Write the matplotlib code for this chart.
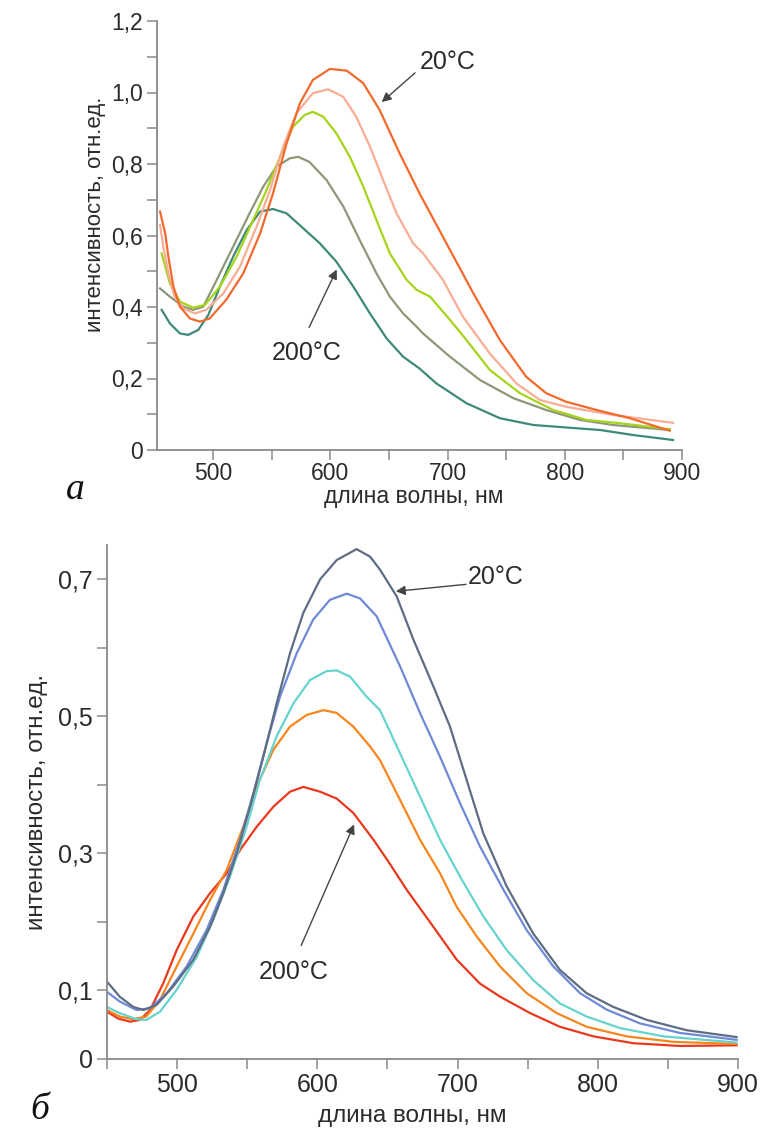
import matplotlib
matplotlib.use("Agg")
import matplotlib.pyplot as plt

plt.rcParams['font.family'] = ['Liberation Sans', 'DejaVu Sans']

# ===== ДАННЫЕ: панель а =====
a_orange_x = [454.6, 459, 461.7, 466, 471.6, 480, 488.7, 497, 511, 525.6, 540, 551, 562.6, 574, 585,
              599.5, 614, 628, 642, 659, 676, 699, 722, 744.5, 767, 784, 801, 827, 855.4, 889.5]
a_orange_y = [0.667, 0.606, 0.541, 0.457, 0.401, 0.368, 0.359, 0.368, 0.42, 0.494, 0.606, 0.718, 0.858,
              0.97, 1.035, 1.066, 1.061, 1.026, 0.951, 0.83, 0.718, 0.578, 0.438, 0.308, 0.205, 0.159,
              0.135, 0.112, 0.089, 0.054]

a_salmon_x = [454.6, 457.4, 461.7, 467, 474.5, 484.4, 494, 508.6, 522.8, 537, 548.4, 559.7, 571, 585,
              598, 611, 622, 633.7, 645, 656.4, 670.6, 679, 696, 713, 736, 758.8, 778.7, 801, 841, 892.4]
a_salmon_y = [0.629, 0.569, 0.494, 0.429, 0.396, 0.382, 0.392, 0.438, 0.513, 0.625, 0.727, 0.849,
              0.942, 0.998, 1.009, 0.988, 0.932, 0.849, 0.755, 0.662, 0.578, 0.55, 0.476, 0.373, 0.27,
              0.186, 0.14, 0.121, 0.098, 0.076]

a_green_x = [456, 463, 471.6, 483, 493, 505.7, 520, 534, 545.5, 557, 568, 578, 585, 594, 605, 616.6,
             628, 639.3, 650.7, 665, 673.5, 685, 702, 716, 736, 761.6, 790, 818.5, 847, 889.5]
a_green_y = [0.55, 0.466, 0.415, 0.398, 0.406, 0.457, 0.541, 0.643, 0.727, 0.82, 0.904, 0.937, 0.946,
             0.932, 0.886, 0.82, 0.737, 0.643, 0.55, 0.476, 0.448, 0.429, 0.364, 0.308, 0.224, 0.159,
             0.112, 0.084, 0.075, 0.058]

a_gray_x = [454.6, 463, 474.5, 483, 491.5, 503, 517, 531, 542.7, 554, 565.4, 572.5, 582, 596.7, 611,
            625, 639.3, 650.7, 662, 673.5, 679, 702, 727.5, 756, 784, 813, 841, 889.5]
a_gray_y = [0.452, 0.429, 0.401, 0.392, 0.401, 0.476, 0.569, 0.662, 0.737, 0.793, 0.816, 0.82, 0.806,
            0.755, 0.681, 0.587, 0.494, 0.429, 0.382, 0.345, 0.326, 0.261, 0.196, 0.145, 0.112, 0.084,
            0.07, 0.056]

a_teal_x = [456, 463, 471.6, 478.7, 487.2, 495.8, 505.7, 517, 528.5, 540, 551, 562.6, 576.8, 591, 605,
            619.5, 633.7, 648, 662, 676, 690.5, 716, 744.5, 773, 801, 830, 858, 892.4]
a_teal_y = [0.392, 0.354, 0.326, 0.322, 0.336, 0.378, 0.457, 0.541, 0.615, 0.667, 0.674, 0.662, 0.62,
            0.578, 0.527, 0.457, 0.382, 0.312, 0.261, 0.228, 0.186, 0.131, 0.089, 0.07, 0.063, 0.056,
            0.042, 0.028]

# ===== ДАННЫЕ: панель б =====
b_slate_x = [450, 459, 468.8, 476, 485.4, 497.3, 511.6, 523.5, 533, 542.5, 552, 561.5, 571, 580.5, 590,
             602, 613.8, 628, 637.6, 644.7, 656.6, 668.5, 682.7, 694.6, 706.5, 718.4, 735, 754, 773,
             792, 811, 835, 863.4, 899]
b_slate_y = [0.113, 0.091, 0.076, 0.0715, 0.079, 0.106, 0.145, 0.193, 0.242, 0.30, 0.368, 0.441, 0.519,
             0.592, 0.651, 0.70, 0.728, 0.744, 0.733, 0.714, 0.675, 0.612, 0.544, 0.485, 0.407, 0.329,
             0.252, 0.183, 0.13, 0.096, 0.076, 0.057, 0.042, 0.032]

b_blue_x = [450, 459, 471, 480.7, 492.6, 506.8, 521, 533, 544.9, 554.4, 563.9, 573.4, 585.3, 597, 609,
            621, 630.5, 642.3, 659, 673.2, 687.5, 701.8, 716, 732.7, 749.3, 768.3, 787.4, 806.4, 830,
            858.7, 899]
b_blue_y = [0.098, 0.084, 0.0715, 0.074, 0.096, 0.135, 0.188, 0.247, 0.32, 0.388, 0.461, 0.529, 0.592,
            0.641, 0.67, 0.679, 0.672, 0.646, 0.573, 0.505, 0.441, 0.373, 0.31, 0.247, 0.188, 0.135,
            0.096, 0.072, 0.052, 0.038, 0.028]

b_cyan_x = [450, 459, 471, 478, 487.8, 499.7, 514, 525.8, 537.7, 549.6, 559, 571, 583, 594.8, 606.7,
            613.8, 623.3, 635, 644.7, 659, 673.2, 687.5, 701.8, 718.4, 735, 754, 773, 792, 816, 847, 899]
b_cyan_y = [0.076, 0.067, 0.058, 0.057, 0.069, 0.101, 0.149, 0.203, 0.266, 0.339, 0.407, 0.471, 0.519,
            0.553, 0.566, 0.567, 0.558, 0.529, 0.509, 0.446, 0.383, 0.32, 0.266, 0.208, 0.159, 0.115,
            0.081, 0.062, 0.045, 0.033, 0.024]

b_orange_x = [450, 459, 468.8, 478, 487.8, 499.7, 511.6, 523.5, 535.4, 547.2, 556.8, 568.6, 580.5,
              592.4, 604.3, 613.8, 625.7, 637.6, 644.7, 659, 673.2, 687.5, 699.4, 713.6, 730.3, 749.3,
              770.7, 792, 820.6, 854, 899]
b_orange_y = [0.0715, 0.062, 0.058, 0.062, 0.086, 0.135, 0.183, 0.232, 0.276, 0.339, 0.398, 0.451,
              0.485, 0.502, 0.509, 0.505, 0.485, 0.456, 0.436, 0.378, 0.32, 0.271, 0.222, 0.179, 0.135,
              0.096, 0.067, 0.047, 0.033, 0.025, 0.022]

b_red_x = [450, 458, 466.4, 473.5, 480.7, 490, 499.7, 511.6, 523.5, 535.4, 544.9, 556.8, 568.6, 580.5,
           590, 602, 613.8, 625.7, 640, 650.7, 663.7, 682.7, 699.4, 716, 730.3, 751.7, 773, 797,
           825.4, 858.7, 899]
b_red_y = [0.069, 0.059, 0.0545, 0.057, 0.0715, 0.11, 0.159, 0.208, 0.242, 0.271, 0.305, 0.339, 0.368,
           0.39, 0.397, 0.39, 0.38, 0.359, 0.32, 0.288, 0.247, 0.193, 0.145, 0.11, 0.091, 0.067, 0.047,
           0.033, 0.023, 0.019, 0.02]

a_yticks = [0, 0.1, 0.2, 0.3, 0.4, 0.5, 0.6, 0.7, 0.8, 0.9, 1.0, 1.1, 1.2]
a_ylabels = ['0', '', '0,2', '', '0,4', '', '0,6', '', '0,8', '', '1,0', '', '1,2']
b_yticks = [0, 0.1, 0.2, 0.3, 0.4, 0.5, 0.6, 0.7]
b_ylabels = ['0', '0,1', '', '0,3', '', '0,5', '', '0,7']
xticks = [450, 500, 550, 600, 650, 700, 750, 800, 850, 900]
xlabels = ['', '500', '', '600', '', '700', '', '800', '', '900']

W, H = 760, 1129
fig = plt.figure(figsize=(W / 100, H / 100), dpi=100)

axis_col = '#8a8a8a'
text_col = '#2b2b2b'


def box(x0, y0, x1, y1):
    # пиксели -> доли фигуры
    return [x0 / W, 1 - y1 / H, (x1 - x0) / W, (y1 - y0) / H]


def style(ax, fs, xpad=3):
    for s in ['top', 'right']:
        ax.spines[s].set_visible(False)
    for s in ['left', 'bottom']:
        ax.spines[s].set_color(axis_col)
        ax.spines[s].set_linewidth(1.3)
    ax.tick_params(colors=axis_col, labelcolor=text_col, labelsize=fs,
                   length=7, width=1.1, pad=3)
    ax.tick_params(axis='x', pad=xpad)


# ===== ГРАФИК а =====
ax1 = fig.add_axes(box(157, 21, 682, 450))
lw = 1.6
ax1.plot(a_teal_x, a_teal_y, color='#3d8a78', lw=lw)
ax1.plot(a_gray_x, a_gray_y, color='#8c9878', lw=lw)
ax1.plot(a_green_x, a_green_y, color='#a6d41c', lw=lw)
ax1.plot(a_salmon_x, a_salmon_y, color='#f9ad95', lw=lw)
ax1.plot(a_orange_x, a_orange_y, color='#f26a2d', lw=lw)
ax1.set_xlim(452, 900)
ax1.set_ylim(0, 1.2)
ax1.set_yticks(a_yticks)
ax1.set_yticklabels(a_ylabels)
ax1.set_xticks(xticks[1:])
ax1.set_xticklabels(xlabels[1:])
style(ax1, 16.5, xpad=2)

ax1.annotate('', xy=(642, 0.968), xytext=(674, 1.06),
             arrowprops=dict(arrowstyle='-|>', color='#444444', lw=1, mutation_scale=14))
ax1.text(676, 1.085, '20°C', fontsize=18, color=text_col, ha='left', va='center')
ax1.annotate('', xy=(606.4, 0.512), xytext=(580.8, 0.336),
             arrowprops=dict(arrowstyle='-|>', color='#444444', lw=1, mutation_scale=14))
ax1.text(580, 0.271, '200°C', fontsize=18, color=text_col, ha='center', va='center')

fig.text(414 / W, 1 - 497 / H, 'длина волны, нм', fontsize=16.5, color=text_col,
         ha='center', va='center')
fig.text(95 / W, 1 - 214 / H, 'интенсивность, отн.ед.', fontsize=16, color=text_col,
         ha='center', va='center', rotation=90)
fig.text(75 / W, 1 - 490 / H, 'a', fontsize=27, style='italic', family='Liberation Serif',
         color='#111111', ha='center', va='center')

# ===== ГРАФИК б =====
ax2 = fig.add_axes(box(107, 545, 738, 1059))
ax2.plot(b_red_x, b_red_y, color='#e8391f', lw=lw)
ax2.plot(b_orange_x, b_orange_y, color='#f7861c', lw=lw)
ax2.plot(b_cyan_x, b_cyan_y, color='#66d3ce', lw=lw)
ax2.plot(b_blue_x, b_blue_y, color='#6e8ad6', lw=lw)
ax2.plot(b_slate_x, b_slate_y, color='#5e6d84', lw=lw)
ax2.set_xlim(450, 900)
ax2.set_ylim(0, 0.75)
ax2.set_yticks(b_yticks)
ax2.set_yticklabels(b_ylabels)
ax2.set_xticks(xticks)
ax2.set_xticklabels(xlabels)
style(ax2, 18)

ax2.annotate('', xy=(654, 0.682), xytext=(708, 0.693),
             arrowprops=dict(arrowstyle='-|>', color='#444444', lw=1, mutation_scale=14))
ax2.text(707, 0.704, '20°C', fontsize=18, color=text_col, ha='left', va='center')
ax2.annotate('', xy=(627, 0.346), xytext=(587.7, 0.162),
             arrowprops=dict(arrowstyle='-|>', color='#444444', lw=1, mutation_scale=14))
ax2.text(583, 0.127, '200°C', fontsize=18, color=text_col, ha='center', va='center')

fig.text(412 / W, 1 - 1116 / H, 'длина волны, нм', fontsize=17.5, color=text_col,
         ha='center', va='center')
fig.text(37 / W, 1 - 802 / H, 'интенсивность, отн.ед.', fontsize=17.5, color=text_col,
         ha='center', va='center', rotation=90)
fig.text(40 / W, 1 - 1110 / H, 'б', fontsize=27, style='italic', family='Liberation Serif',
         color='#111111', ha='center', va='center')

plt.savefig('out.png', dpi=100)
plt.close()
